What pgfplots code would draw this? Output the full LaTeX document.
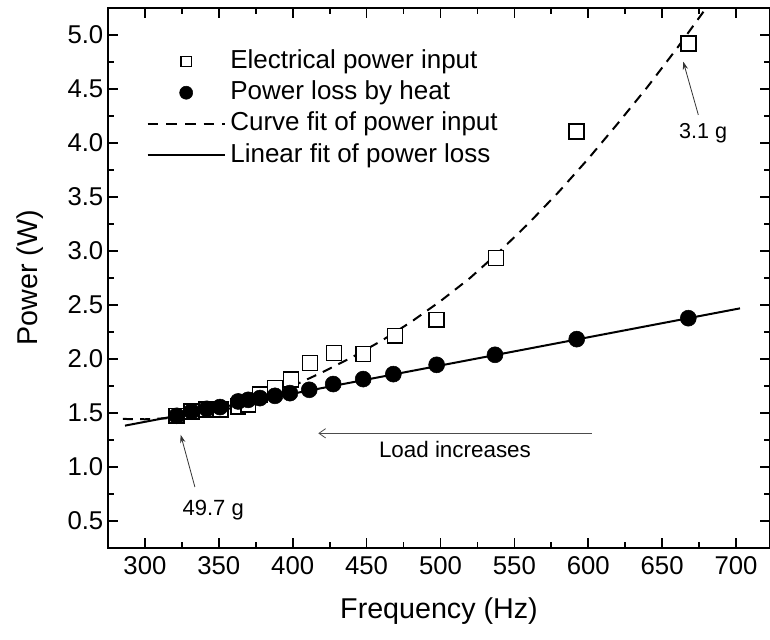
\documentclass[border=0pt]{standalone}
\usepackage{fontspec}
\setmainfont{Liberation Sans}
\usepackage{pgfplots}
\usepackage{pgfplotstable}
\pgfplotsset{compat=1.18}
\usetikzlibrary{arrows.meta}

\pgfplotstableread{
f P
321.5 1.474
331.6 1.514
341.8 1.530
351.3 1.530
363.1 1.560
369.9 1.576
377.8 1.669
388.0 1.731
398.8 1.808
411.7 1.962
427.9 2.055
447.7 2.045
469.2 2.215
497.4 2.363
537.5 2.934
592.2 4.106
667.7 4.923
}\inputtable

\pgfplotstableread{
f P
321.5 1.474
331.6 1.514
341.8 1.539
350.8 1.555
363.1 1.607
369.9 1.622
377.8 1.638
388.0 1.659
398.1 1.684
411.2 1.715
427.4 1.768
447.7 1.814
468.1 1.860
497.4 1.946
536.9 2.039
592.2 2.184
667.7 2.378
}\losstable

\pgfplotstableread{
f P
285 1.445
300 1.442
320 1.455
340 1.490
360 1.550
380 1.637
400 1.749
420 1.877
440 2.015
460 2.168
480 2.342
500 2.536
520 2.750
540 2.996
560 3.261
580 3.547
600 3.854
620 4.181
640 4.518
660 4.876
680 5.254
685 5.356
}\curvetable

\pgfplotstableread{
f P
286.5 1.383
702.7 2.469
}\lineartable

\begin{document}
\begin{tikzpicture}
\begin{axis}[
  scale only axis,
  width=496.5pt, height=405pt,
  xmin=275, xmax=723,
  ymin=0.25, ymax=5.25,
  xtick={300,350,...,700},
  ytick={0.5,1.0,...,5.0},
  minor x tick num=1,
  minor y tick num=1,
  tick align=inside,
  major tick length=7.5pt,
  minor tick length=4.5pt,
  axis line style={line width=1.5pt},
  every tick/.style={line width=1.3pt, black},
  /pgf/number format/assume math mode=true,
  yticklabel style={/pgf/number format/fixed, /pgf/number format/fixed zerofill, /pgf/number format/precision=1},
  xticklabel style={/pgf/number format/fixed, /pgf/number format/precision=0, /pgf/number format/1000 sep={}, /tikz/yshift=-3pt},
  tick label style={font=\fontsize{19.3}{22}\selectfont},
  xlabel={Frequency (Hz)},
  ylabel={Power (W)},
  every axis x label/.style={at={(axis description cs:0.5,-0.1167)}, anchor=center, font=\fontsize{21.5}{24}\selectfont},
  every axis y label/.style={at={(axis description cs:-0.118,0.5)}, anchor=center, rotate=90, font=\fontsize{21.5}{24}\selectfont},
  clip=true,
  legend image code/.code={\draw[mark repeat=2,mark phase=2,#1] plot coordinates {(0pt,0pt)(28.875pt,0pt)(57.75pt,0pt)};},
  legend style={draw=none, fill=none, at={(axis description cs:0.052,0.93)}, anchor=north west,
    font=\fontsize{19.5}{22}\selectfont, row sep=4.5pt,
    nodes={inner sep=0.5pt, text height=14pt, text depth=4pt}},
  legend cell align=left,
  /tikz/every odd column/.append style={column sep=3pt},
]
% legend images
\addlegendimage{only marks, mark=square, mark size=3.8pt, mark options={line width=1.1pt, fill=white, draw=black}}
\addlegendentry{Electrical power input}
\addlegendimage{only marks, mark=*, mark size=4.9pt, mark options={fill=black, draw=black}}
\addlegendentry{Power loss by heat}
\addlegendimage{black, line width=1.5pt, dash pattern=on 8pt off 6pt}
\addlegendentry{Curve fit of power input}
\addlegendimage{black, line width=1.5pt}
\addlegendentry{Linear fit of power loss}

% fits
\addplot[forget plot, black, line width=1.5pt, dash pattern=on 7.5pt off 5.5pt] table[x=f, y=P] {\curvetable};
\addplot[forget plot, black, line width=1.5pt] table[x=f, y=P] {\lineartable};
% data
\addplot[forget plot, only marks, mark=square*, mark size=5.6pt, mark options={line width=1.2pt, fill=white, draw=black}] table[x=f, y=P] {\inputtable};
\addplot[forget plot, only marks, mark=*, mark size=6pt, mark options={fill=black, draw=black}] table[x=f, y=P] {\losstable};

% annotations
\draw[-{Stealth[length=6pt, width=4pt]}, line width=0.6pt, black!80] (axis cs:674.5,4.260) -- (axis cs:664.3,4.753);
\node[font=\fontsize{16.2}{18}\selectfont] at (axis cs:677.8,4.090) {3.1 g};
\draw[-{Stealth[length=6pt, width=4pt]}, line width=0.6pt, black!80] (axis cs:333.8,0.815) -- (axis cs:324.2,1.298);
\node[font=\fontsize{16.5}{18}\selectfont] at (axis cs:346.2,0.598) {49.7 g};
\draw[-{Straight Barb[length=5pt, width=7pt]}, line width=0.6pt, black!70] (axis cs:602.3,1.312) -- (axis cs:417.3,1.312);
\node[font=\fontsize{16.8}{18}\selectfont] at (axis cs:509.8,1.160) {Load increases};
\end{axis}
\pgfresetboundingbox
\path ([shift={(-81pt,-68.25pt)}]current axis.south west) rectangle ([shift={(496.5pt,411pt)}]current axis.south west);
\end{tikzpicture}
\end{document}
